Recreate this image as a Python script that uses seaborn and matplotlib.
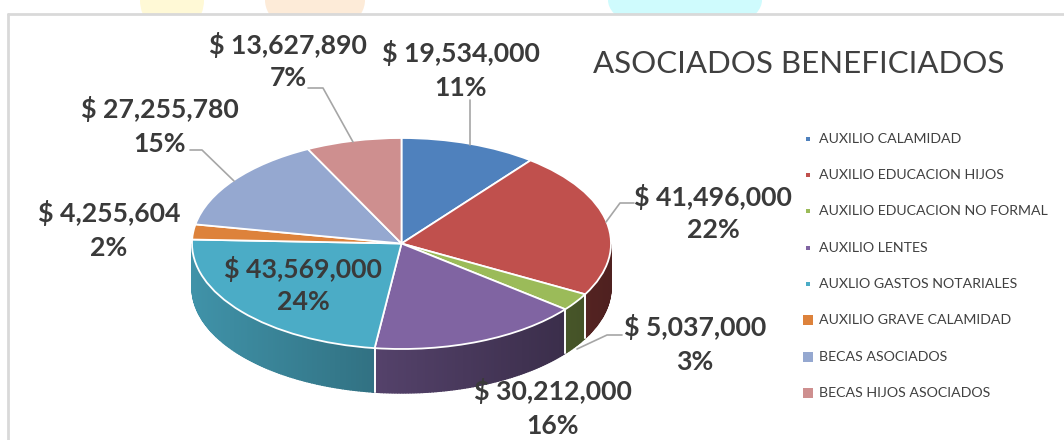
import numpy as np
import matplotlib
matplotlib.use("Agg")
import matplotlib.pyplot as plt
from matplotlib.patches import Ellipse, Rectangle
import seaborn as sns

title = "ASOCIADOS BENEFICIADOS"
categories = ["AUXILIO CALAMIDAD", "AUXILIO EDUCACION HIJOS", "AUXILIO EDUCACION NO FORMAL",
              "AUXILIO LENTES", "AUXLIO GASTOS NOTARIALES", "AUXILIO GRAVE CALAMIDAD",
              "BECAS ASOCIADOS", "BECAS HIJOS ASOCIADOS"]
amounts = [19534000, 41496000, 5037000, 30212000, 43569000, 4255604, 27255780, 13627890]
colors = ["#4F81BD", "#C0504D", "#9BBB59", "#8064A2", "#4BACC6", "#DD823B", "#95A8D0", "#CE8F8F"]

label_xy = [(461, 70), (713, 213), (695, 344), (553, 408), (303, 285), (109, 230), (160, 126), (288, 61)]
legend_y = [139, 175, 211, 248, 284, 320, 357, 393]
legend_ms = [3.2, 3.2, 3.2, 3.2, 3.2, 7, 7, 7]
leaders = [[(470, 100), (470, 145)],
           [(634, 203), (620, 203), (606, 222)],
           [(622, 335), (607, 335), (577, 349)],
           [(190, 150), (202, 150), (234, 181)],
           [(308, 88), (323, 88), (353, 142)]]

sns.set_theme(style="white")
plt.rcParams["font.family"] = ["Lato", "DejaVu Sans"]
palette = sns.color_palette(colors)

W, H = 1064, 440
fig = plt.figure(figsize=(W / 100, H / 100), dpi=100, facecolor="white")

# pie axes: data range -1..1 spans the top ellipse of the disc
cx0, cx1, cy0, cy1 = 192, 611, 138, 349
ax = fig.add_axes([cx0 / W, 1 - cy1 / H, (cx1 - cx0) / W, (cy1 - cy0) / H], zorder=1)
ax.patch.set_alpha(0)
wedges, _ = ax.pie(amounts, colors=palette, startangle=90, counterclock=False, radius=1,
                   wedgeprops=dict(edgecolor="white", linewidth=1.3, zorder=3))
ax.set_aspect("auto")
ax.set_xlim(-1, 1)
ax.set_ylim(-1, 1)
ax.axis("off")
for w in wedges:
    w.set_clip_on(False)

depth = 44 / ((cy1 - cy0) / 2)
fr = np.cumsum([0] + amounts) / sum(amounts)
for i, col in enumerate(palette):
    a0, a1 = 90 - 360 * fr[i], 90 - 360 * fr[i + 1]
    th = np.radians(np.arange(a0, a1 - 0.5, -0.75).tolist() + [a1])
    th = th[np.sin(th) <= 0.001]
    if len(th) < 2:
        continue
    for t0, t1 in zip(th[:-1], th[1:]):
        xm = (np.cos(t0) + np.cos(t1)) / 2
        f = 0.63 - 0.22 * xm
        c = tuple(f * v for v in col)
        xs = [np.cos(t0), np.cos(t1), np.cos(t1), np.cos(t0)]
        ys = [np.sin(t0), np.sin(t1), np.sin(t1) - depth, np.sin(t0) - depth]
        ax.fill(xs, ys, facecolor=c, edgecolor=c, lw=1.0, zorder=1, clip_on=False)
    for t in (th[0], th[-1]):
        if np.cos(t) > -0.99 and np.cos(t) < 0.99:
            ax.plot([np.cos(t)] * 2, [np.sin(t), np.sin(t) - depth], color="white", lw=1.2,
                    zorder=2, clip_on=False)

# overlay in pixel coordinates
ov = fig.add_axes([0, 0, 1, 1], zorder=2)
ov.patch.set_alpha(0)
ov.set_xlim(0, W)
ov.set_ylim(H, 0)
ov.axis("off")

# faint background shapes peeking above the frame
bg = fig.add_axes([0, 0, 1, 1], zorder=0)
bg.set_xlim(0, W)
bg.set_ylim(H, 0)
bg.axis("off")
for (x, w, c) in [(172, 64, "#FFF9D6"), (315, 100, "#FDEBD8"), (685, 154, "#CFFBFD")]:
    bg.add_patch(Ellipse((x, 0), w, 70, color=c, lw=0, zorder=0))
bg.add_patch(Rectangle((0, 14), W, H - 14, color="white", lw=0, zorder=1))
ov.plot([8, 8], [H, 14], color="#D9D9D9", lw=2)
ov.plot([8, W], [14, 14], color="#D9D9D9", lw=2)

total = sum(amounts)
for v, (x, y) in zip(amounts, label_xy):
    ov.text(x, y, f"$ {v:,}\n{round(100 * v / total)}%", ha="center", va="center",
            fontsize=19.2, fontweight="bold", color="#3A3A3A", linespacing=1.45, zorder=5)

for pts in leaders:
    xs, ys = zip(*pts)
    ov.plot(xs, ys, color="#A6A6A6", lw=1.2, zorder=4)

ov.text(799, 64, title, ha="center", va="center", fontsize=22.5, color="#404040",
        fontweight="normal")

for name, y, col, ms in zip(categories, legend_y, palette, legend_ms):
    ov.plot([808], [y], marker="s", ms=ms, color=col, mew=0, ls="none")
    ov.text(819, y, name, ha="left", va="center", fontsize=10.2, color="#404040")

fig.savefig("out.png", dpi=100, facecolor="white")
